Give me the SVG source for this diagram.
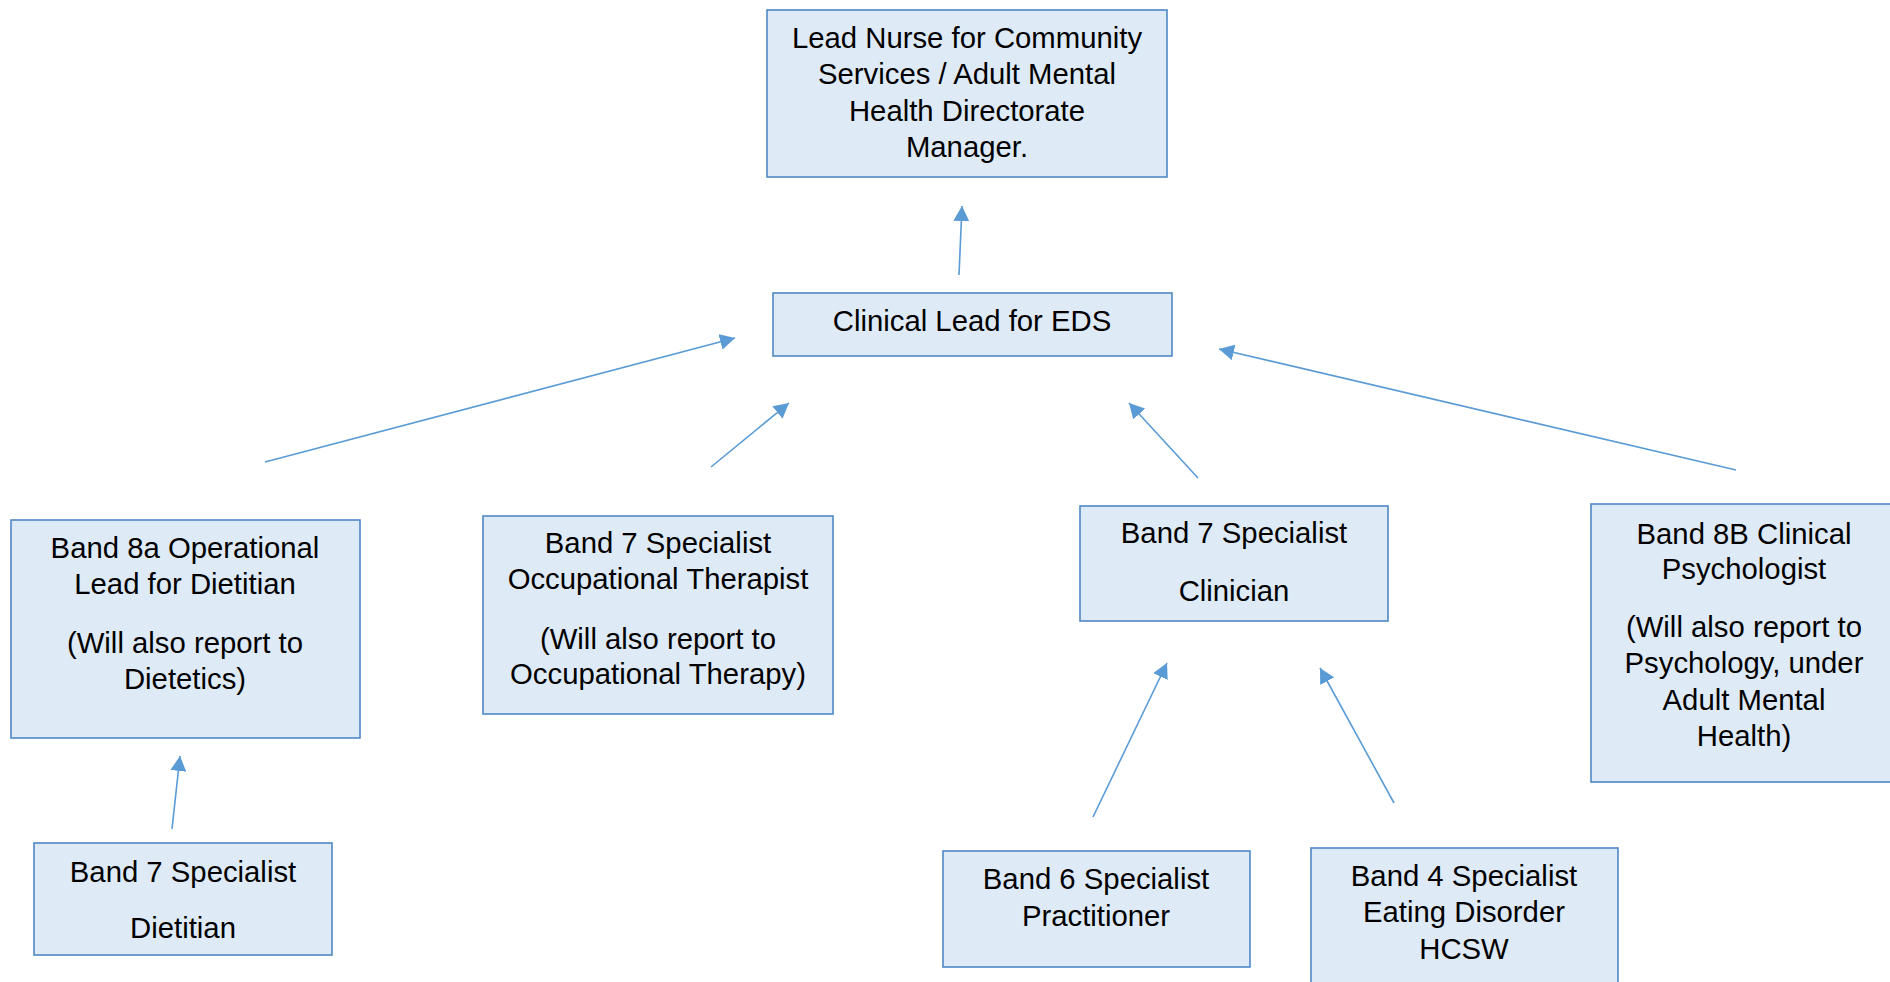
<svg xmlns="http://www.w3.org/2000/svg" width="1890" height="982" viewBox="0 0 1890 982">
<style>
.box{fill:#DEEAF6;stroke:#4F88C6;stroke-width:1.6}
.t{font-family:"Liberation Sans",Arial,sans-serif;font-size:29.3px;fill:#000;text-anchor:middle}
.c{stroke:#5B9BD5;stroke-width:1.6;fill:none;marker-end:url(#ah)}
</style>
<defs>
<marker id="ah" viewBox="0 0 15 16" refX="15" refY="8" markerWidth="15" markerHeight="16" markerUnits="userSpaceOnUse" orient="auto">
<path d="M0,0 L15,8 L0,16 z" fill="#5B9BD5"/>
</marker>
</defs>
<rect width="1890" height="982" fill="#fff"/>
<g id="connectors">
<line class="c" x1="959" y1="275" x2="962" y2="206"/>
<line class="c" x1="265" y1="462" x2="735" y2="338"/>
<line class="c" x1="711" y1="467" x2="789" y2="403"/>
<line class="c" x1="1198" y1="478" x2="1129" y2="403"/>
<line class="c" x1="1736" y1="470" x2="1219" y2="349"/>
<line class="c" x1="172" y1="829" x2="180" y2="756"/>
<line class="c" x1="1093" y1="817" x2="1167" y2="663"/>
<line class="c" x1="1394" y1="803" x2="1320" y2="668"/>
</g>
<g id="lead-nurse">
<rect class="box" x="767" y="10" width="400" height="167"/>
<text class="t" x="967" y="48">Lead Nurse for Community</text>
<text class="t" x="967" y="84">Services / Adult Mental</text>
<text class="t" x="967" y="121">Health Directorate</text>
<text class="t" x="967" y="157">Manager.</text>
</g>
<g id="clinical-lead">
<rect class="box" x="773" y="293" width="399" height="63"/>
<text class="t" x="972" y="331">Clinical Lead for EDS</text>
</g>
<g id="band8a">
<rect class="box" x="11" y="520" width="349" height="218"/>
<text class="t" x="185" y="558">Band 8a Operational</text>
<text class="t" x="185" y="594">Lead for Dietitian</text>
<text class="t" x="185" y="653">(Will also report to</text>
<text class="t" x="185" y="689">Dietetics)</text>
</g>
<g id="band7-ot">
<rect class="box" x="483" y="516" width="350" height="198"/>
<text class="t" x="658" y="553">Band 7 Specialist</text>
<text class="t" x="658" y="589">Occupational Therapist</text>
<text class="t" x="658" y="649">(Will also report to</text>
<text class="t" x="658" y="684">Occupational Therapy)</text>
</g>
<g id="band7-clinician">
<rect class="box" x="1080" y="506" width="308" height="115"/>
<text class="t" x="1234" y="543">Band 7 Specialist</text>
<text class="t" x="1234" y="601">Clinician</text>
</g>
<g id="band8b">
<rect class="box" x="1591" y="504" width="306" height="278"/>
<text class="t" x="1744" y="544">Band 8B Clinical</text>
<text class="t" x="1744" y="579">Psychologist</text>
<text class="t" x="1744" y="637">(Will also report to</text>
<text class="t" x="1744" y="673">Psychology, under</text>
<text class="t" x="1744" y="710">Adult Mental</text>
<text class="t" x="1744" y="746">Health)</text>
</g>
<g id="band7-dietitian">
<rect class="box" x="34" y="843" width="298" height="112"/>
<text class="t" x="183" y="882">Band 7 Specialist</text>
<text class="t" x="183" y="938">Dietitian</text>
</g>
<g id="band6">
<rect class="box" x="943" y="851" width="307" height="116"/>
<text class="t" x="1096" y="889">Band 6 Specialist</text>
<text class="t" x="1096" y="926">Practitioner</text>
</g>
<g id="band4">
<rect class="box" x="1311" y="848" width="307" height="150"/>
<text class="t" x="1464" y="886">Band 4 Specialist</text>
<text class="t" x="1464" y="922">Eating Disorder</text>
<text class="t" x="1464" y="959">HCSW</text>
</g>
</svg>
